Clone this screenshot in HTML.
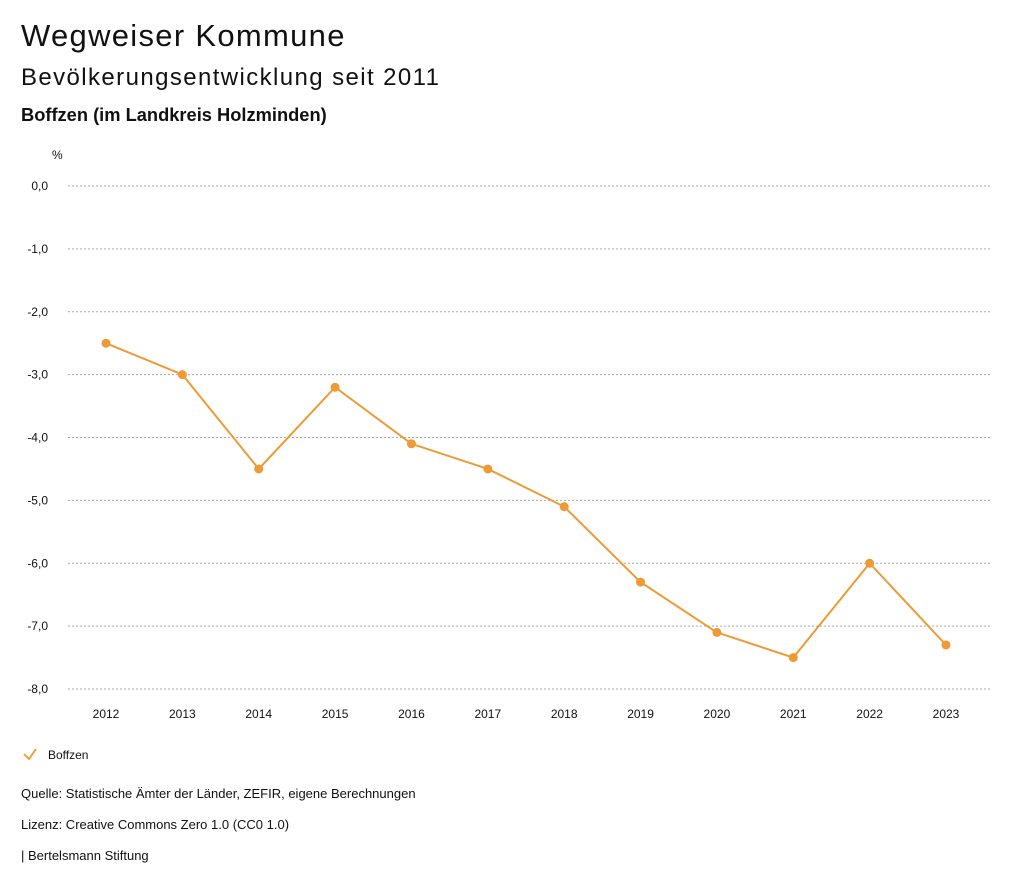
<!DOCTYPE html>
<html><head><meta charset="utf-8">
<style>
body{margin:0;background:#fff;font-family:"Liberation Sans",sans-serif;color:#111;}
#wrap{position:relative;width:1024px;height:888px;overflow:hidden;}
.t{position:absolute;left:21px;white-space:nowrap;}
</style></head>
<body><div id="wrap">
<div class="t" style="top:18px;font-size:31px;letter-spacing:1.3px;">Wegweiser Kommune</div>
<div class="t" style="top:64px;font-size:24px;letter-spacing:1.4px;">Bevölkerungsentwicklung seit 2011</div>
<div class="t" style="top:104px;font-size:18.3px;font-weight:bold;">Boffzen (im Landkreis Holzminden)</div>
<svg id="chart" width="1024" height="888" style="position:absolute;left:0;top:0"></svg>
<div class="t" style="top:786px;font-size:13px;">Quelle: Statistische Ämter der Länder, ZEFIR, eigene Berechnungen</div>
<div class="t" style="top:817px;font-size:13px;">Lizenz: Creative Commons Zero 1.0 (CC0 1.0)</div>
<div class="t" style="top:848px;font-size:13px;">| Bertelsmann Stiftung</div>
</div>
<script>
const years=[2012,2013,2014,2015,2016,2017,2018,2019,2020,2021,2022,2023];
const values=[-2.5,-3.0,-4.5,-3.2,-4.1,-4.5,-5.1,-6.3,-7.1,-7.5,-6.0,-7.3];
const yTicks=[0,-1,-2,-3,-4,-5,-6,-7,-8];
const seriesName="Boffzen";
const color="#ee9a35";
const svg=document.getElementById('chart');
const NS="http://www.w3.org/2000/svg";
const x=i=>106+i*(946-106)/(years.length-1);
const y=v=>186+(0-v)*(689-186)/8;
function mk(t,a,p){const e=document.createElementNS(NS,t);for(const k in a)e.setAttribute(k,a[k]);(p||svg).appendChild(e);return e;}
let u=mk('text',{x:52,y:159,'font-size':12,fill:'#111'});u.textContent='%';


yTicks.forEach(v=>{
 const g=mk('line',{x1:68,x2:990,y1:y(v),y2:y(v),stroke:'#aaa','stroke-dasharray':'2,2','stroke-width':1});
 
 
 const t=mk('text',{x:48,y:y(v)+4,'text-anchor':'end','font-size':12,fill:'#111'});
 t.textContent=v.toFixed(1).replace('.',',');
 
 
});
years.forEach((yr,i)=>{
 const t=mk('text',{x:x(i),y:718,'text-anchor':'middle','font-size':12,fill:'#111'});
 t.textContent=yr;
 
 
});
const pl=mk('polyline',{points:values.map((v,i)=>x(i)+','+y(v)).join(' '),fill:'none',stroke:color,'stroke-width':2});


values.forEach((v,i)=>{
 const c=mk('circle',{cx:x(i),cy:y(v),r:4.5,fill:color});
 
 
});
const lg=mk('g',{});


mk('polyline',{points:'24,754 29,759 36,749',fill:'none',stroke:color,'stroke-width':1.8},lg);
const lt=mk('text',{x:48,y:759,'font-size':12,fill:'#111'},lg);lt.textContent=seriesName;
</script>
</body></html>
